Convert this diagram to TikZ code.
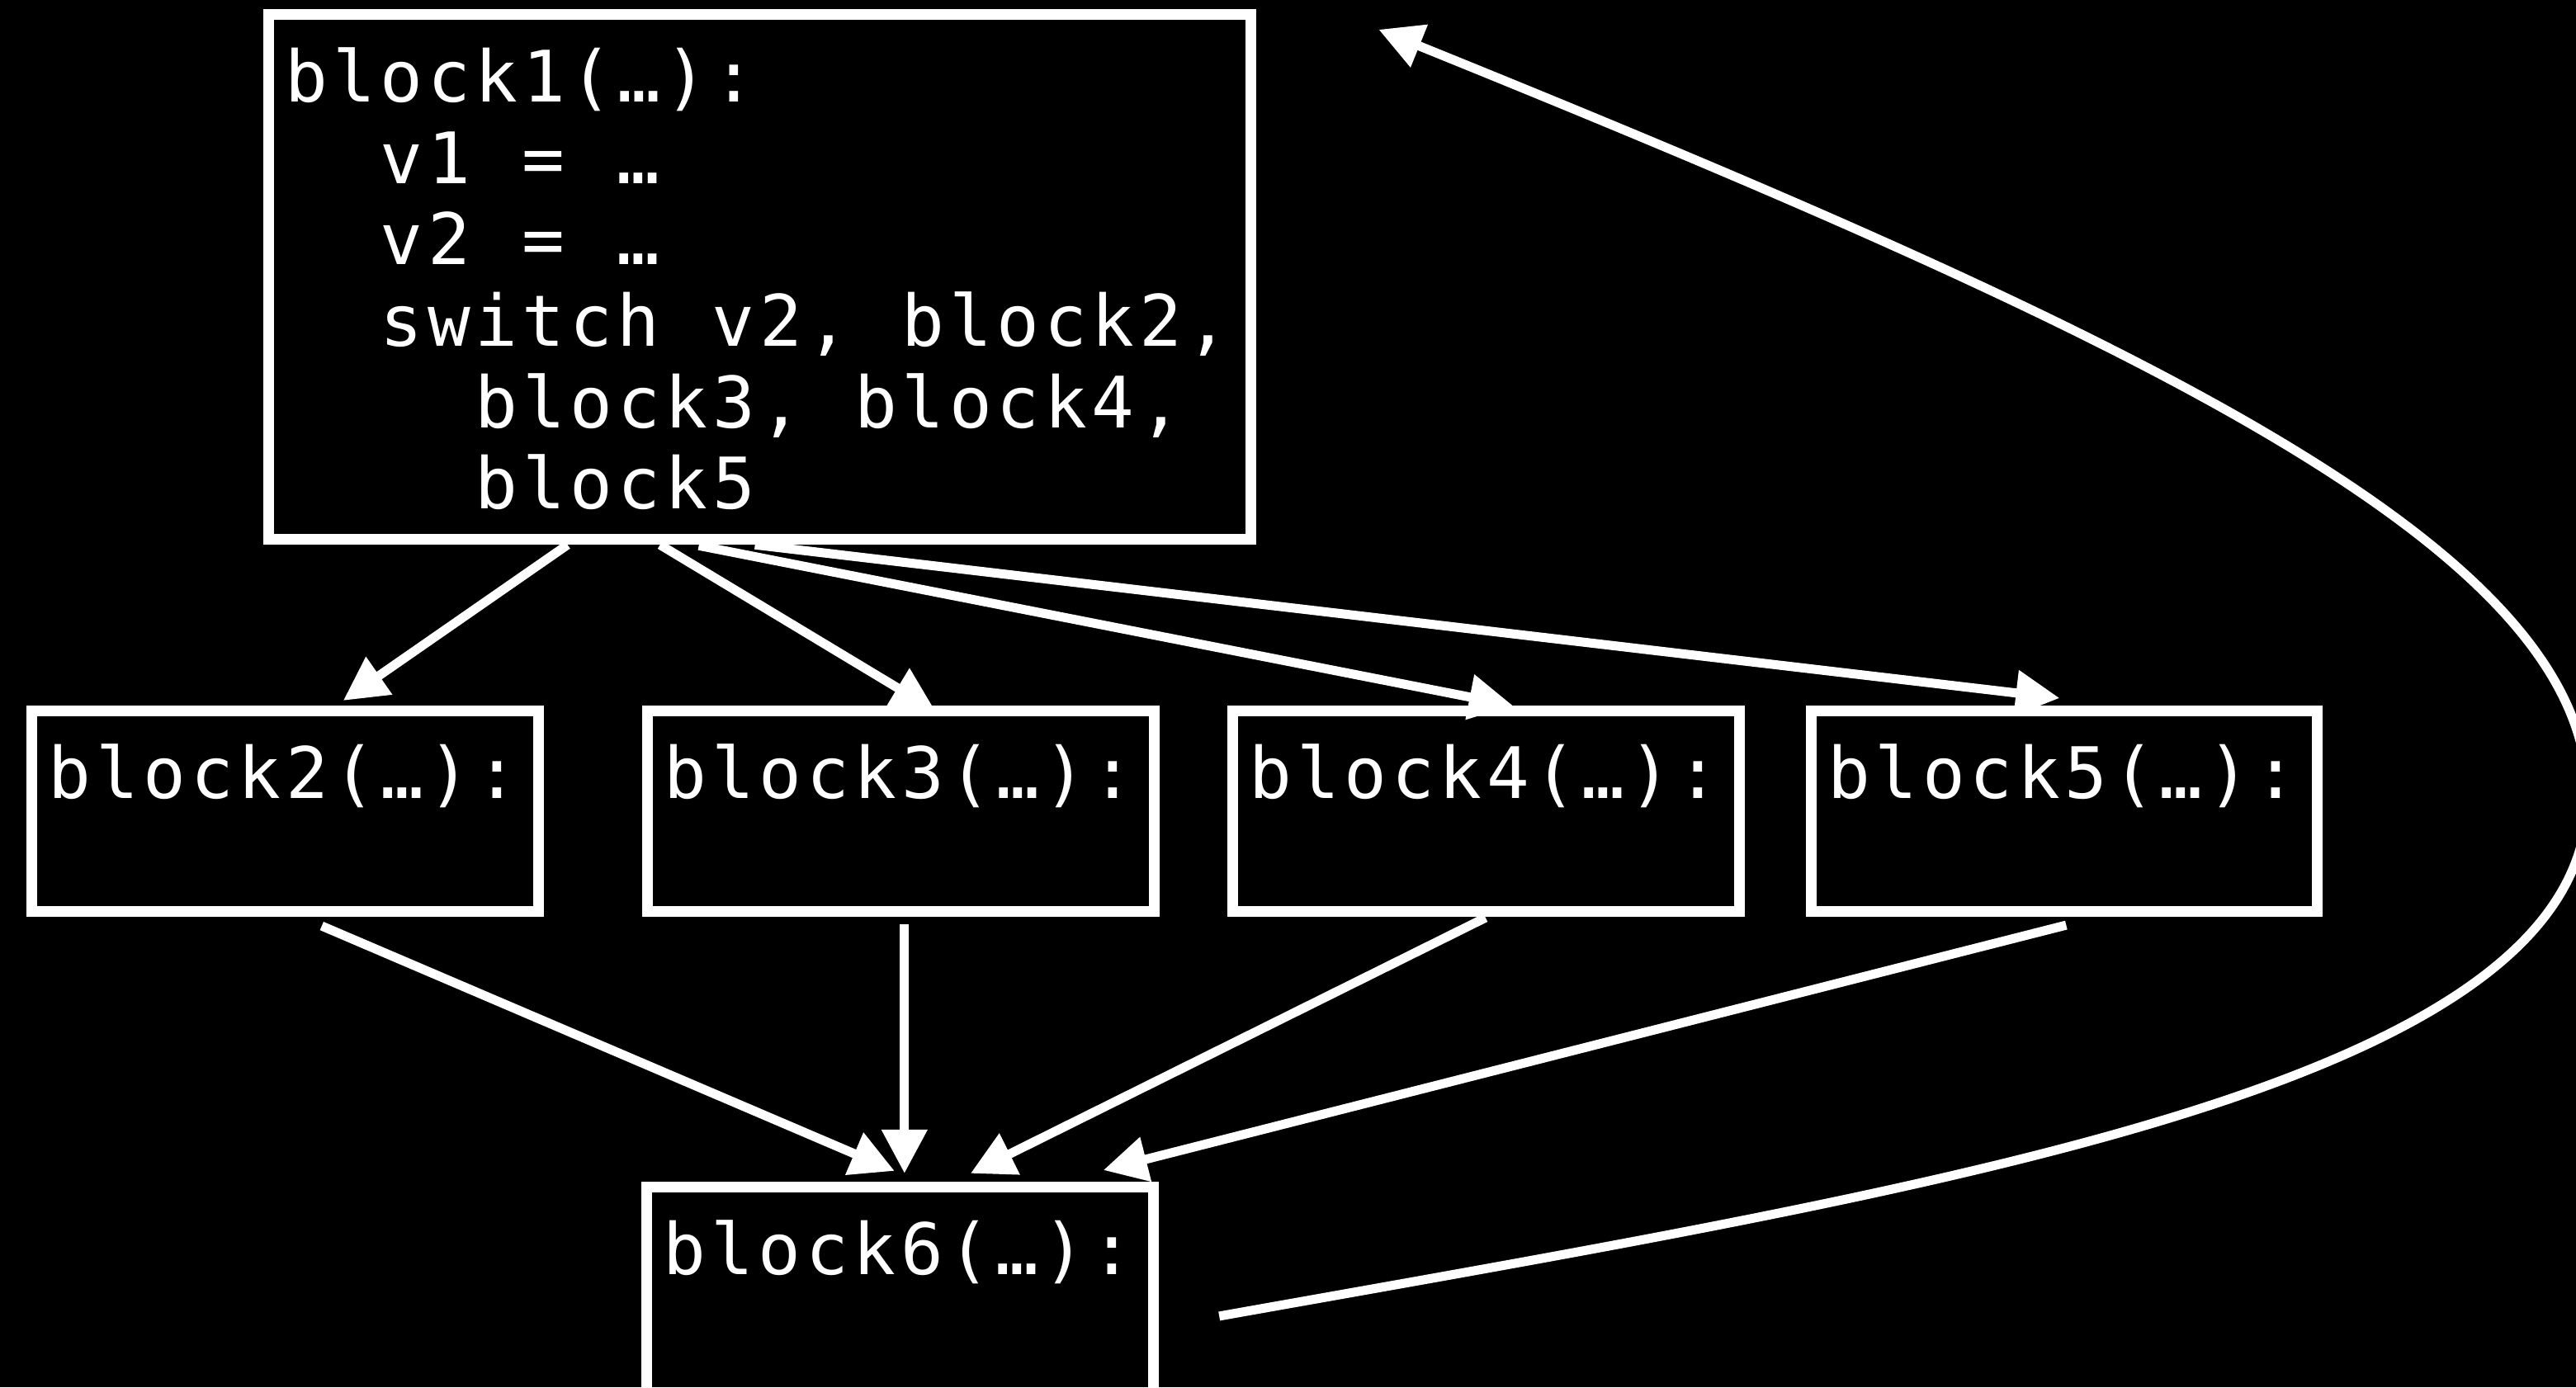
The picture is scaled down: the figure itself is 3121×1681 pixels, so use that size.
\documentclass[tikz,border=0pt]{standalone}
\usepackage{fontspec}
\usetikzlibrary{arrows.meta}
\newfontfamily\codefont[LetterSpace=6.6]{DejaVu Sans Mono}
% one character cell (glyph advance plus letter spacing)
\newlength\chadv
\newcommand\setcode{\codefont\fontsize{24.47pt}{28pt}\selectfont\setlength{\chadv}{0.668em}}
% leading indentation: one cell
\newcommand\blank{\hspace*{\chadv}}
% space between two words: one cell plus the spacing lost after the word
\newcommand\gap{\hspace*{\dimexpr\chadv+0.066em\relax}}
\begin{document}
\begin{tikzpicture}[x=0.01cm,y=-0.01cm,
  box/.style={draw=white, line width=0.13cm, outer sep=0pt, inner sep=0pt},
  code/.style={text=white, inner sep=0pt, outer sep=0pt, anchor=base west, font=\setcode},
  flow/.style={draw=white, line width=0.11cm, -{Triangle[length=0.53cm,width=0.53cm]}}]
\fill[black] (0,0) rectangle (3121,1681);
\useasboundingbox (0,0) rectangle (3121,1681);
\clip (0,0) rectangle (3121,1681);

% basic blocks
\node[box, minimum width=11.89cm, minimum height=6.35cm] (b1) at (920.5,335.5) {};
\node[box, minimum width=6.13cm, minimum height=2.42cm] (b2) at (345.5,983) {};
\node[box, minimum width=6.13cm, minimum height=2.42cm] (b3) at (1091.5,983) {};
\node[box, minimum width=6.13cm, minimum height=2.42cm] (b4) at (1800.5,983) {};
\node[box, minimum width=6.13cm, minimum height=2.42cm] (b5) at (2501,983) {};
\node[box, minimum width=6.13cm, minimum height=2.80cm] (b6) at (1090.5,1579) {};

% block contents
\node[code] (t1) at ([shift={(20,106)}]b1.north west) {\vtop{\baselineskip=0.985cm
  \hbox{block1(…):}
  \hbox{\blank\blank v1\gap=\gap…}
  \hbox{\blank\blank v2\gap=\gap…}
  \hbox{\blank\blank switch\gap v2,\gap block2,}
  \hbox{\blank\blank\blank\blank block3,\gap block4,}
  \hbox{\blank\blank\blank\blank block5}}};
\node[code] (t2) at ([shift={(20,106)}]b2.north west) {block2(…):};
\node[code] (t3) at ([shift={(20,106)}]b3.north west) {block3(…):};
\node[code] (t4) at ([shift={(20,106)}]b4.north west) {block4(…):};
\node[code] (t5) at ([shift={(20,106)}]b5.north west) {block5(…):};
\node[code] (t6) at ([shift={(20,106)}]b6.north west) {block6(…):};

% switch targets
\draw[flow] ([shift={(362,7)}]b1.south west) -- ([shift={(377,-13)}]b2.north west);
\draw[flow] ([shift={(474,7)}]b1.south west) -- ([shift={(348,-1)}]b3.north west);
\draw[flow] ([shift={(521,8)}]b1.south west) -- ([shift={(339,-7)}]b4.north west);
\draw[flow] ([shift={(589,7)}]b1.south west) -- ([shift={(301,-16)}]b5.north west);

% joins into block6
\draw[flow] ([shift={(351,18)}]b2.south west) -- ([shift={(300,-20)}]b6.north west);
\draw[flow] ([shift={(311,16)}]b3.south west) -- ([shift={(312,-17)}]b6.north west);
\draw[flow] ([shift={(306,8)}]b4.south west) -- ([shift={(392,-17)}]b6.north west);
\draw[flow] ([shift={(309,17)}]b5.south west) -- ([shift={(553,-21)}]b6.north west);

% back edge from block6 to the loop head
\coordinate (loopstart) at ([shift={(80,156)}]b6.north east);
\coordinate (loopend) at ([shift={(155,18)}]b1.north east);
\draw[flow] (loopstart) .. controls (2363,1437) and (3135,1315) .. (3135,965)
  .. controls (3135,665) and (2597,411) .. (loopend);
\end{tikzpicture}
\end{document}
